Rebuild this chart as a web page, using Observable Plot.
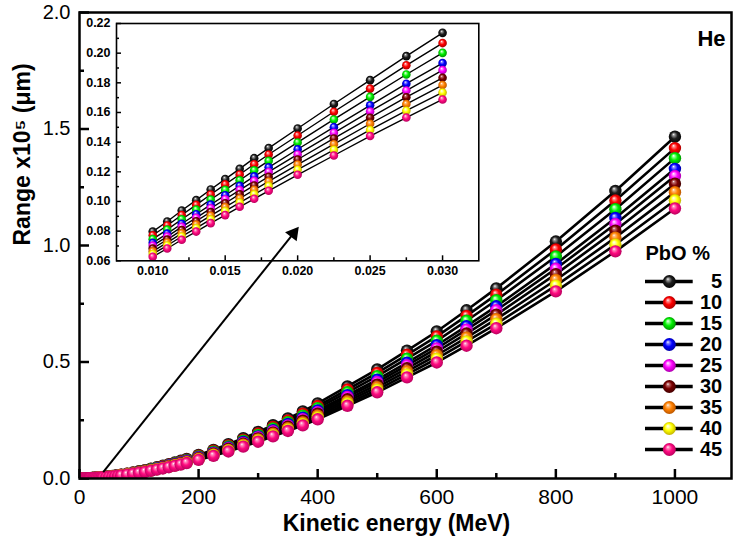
<!DOCTYPE html>
<html><head><meta charset="utf-8">
<script src="https://cdn.jsdelivr.net/npm/d3@7"></script>
<script src="https://cdn.jsdelivr.net/npm/@observablehq/plot@0.6"></script>
<style>
body{margin:0;background:#fff;}
#wrap{position:relative;width:736px;height:547px;overflow:hidden;background:#fff;}
#wrap svg{position:absolute;}
#wrap svg.mainplot g[aria-label^="y-axis"] text{font-size:20px;}
</style></head><body>
<svg width="0" height="0" style="position:absolute"><defs id="defs"></defs></svg>
<div id="wrap"></div>
<script>
// ---------- data ----------
const seriesLabels = ["5","10","15","20","25","30","35","40","45"];
const seriesBase  = ["#1e1e1e","#ff0000","#00f000","#0000ff","#ff00ff","#7a0000","#ff8000","#ffff00","#ff0a80"];
const seriesLight = ["#9a9a9a","#ff9090","#a0ffa0","#9090ff","#ffa0ff","#c07070","#ffc080","#ffffb0","#ff90c0"];
const seriesDark  = ["#000000","#a00000","#008a00","#00009a","#a000a0","#3a0000","#b05000","#b8a800","#b0005a"];

const energies = [2,4,6,8, 10,11,12,13,14,15,16,17,18, 20,22.5,25,27.5,30,32.5,35,37.5,40, 45,50,55,60,65,70, 80,90,100, 110,120,130,140,150,160,170,180, 200,225,250,275,300,325,350,375,400, 450,500,550,600,650,700, 800,900,1000];

const r5  = [0.0001,0.0002,0.0003,0.0005, 0.0007,0.0008,0.0009,0.0010,0.0011,0.0012,0.0013,0.0015,0.0016, 0.0019,0.0023,0.0028,0.0033,0.0038,0.0043,0.0049,0.0055,0.0062, 0.0076,0.0091,0.0108,0.0125,0.0144,0.0165, 0.0208,0.0256,0.0310, 0.0360,0.0420,0.0480,0.0545,0.0615,0.0685,0.0760,0.0840, 0.101,0.123,0.147,0.173,0.200,0.229,0.258,0.288,0.322, 0.395,0.468,0.549,0.631,0.722,0.816, 1.017,1.234,1.467];
const r10 = [0.0001,0.0002,0.0003,0.0005, 0.0007,0.0008,0.0009,0.0010,0.0011,0.0012,0.0013,0.0015,0.0015, 0.0018,0.0022,0.0027,0.0032,0.0037,0.0042,0.0047,0.0053,0.0060, 0.0073,0.0088,0.0104,0.0121,0.0139,0.0160, 0.0201,0.0248,0.0300, 0.0348,0.0406,0.0464,0.0527,0.0595,0.0662,0.0735,0.0812, 0.0977,0.119,0.142,0.167,0.193,0.221,0.249,0.278,0.311, 0.382,0.453,0.531,0.610,0.698,0.789, 0.983,1.193,1.418];
const r15 = [0.0001,0.0002,0.0003,0.0005, 0.0007,0.0007,0.0008,0.0009,0.0010,0.0011,0.0012,0.0014,0.0015, 0.0018,0.0022,0.0026,0.0031,0.0036,0.0040,0.0046,0.0052,0.0058, 0.0071,0.0085,0.0101,0.0117,0.0135,0.0155, 0.0195,0.0240,0.0290, 0.0337,0.0394,0.0450,0.0511,0.0576,0.0642,0.0712,0.0787, 0.0946,0.115,0.138,0.162,0.187,0.215,0.242,0.270,0.302, 0.370,0.439,0.514,0.591,0.677,0.765, 0.953,1.156,1.375];
const r20 = [0.0001,0.0002,0.0003,0.0005, 0.0006,0.0007,0.0008,0.0009,0.0010,0.0011,0.0012,0.0014,0.0014, 0.0017,0.0021,0.0025,0.0030,0.0034,0.0039,0.0044,0.0050,0.0056, 0.0069,0.0082,0.0098,0.0113,0.0130,0.0149, 0.0188,0.0232,0.0281, 0.0326,0.0381,0.0435,0.0494,0.0557,0.0621,0.0689,0.0761, 0.0915,0.111,0.133,0.157,0.181,0.207,0.234,0.261,0.292, 0.358,0.424,0.497,0.572,0.654,0.739, 0.921,1.118,1.329];
const r25 = [0.0001,0.0002,0.0003,0.0004, 0.0006,0.0007,0.0008,0.0009,0.0010,0.0011,0.0012,0.0013,0.0014, 0.0017,0.0020,0.0025,0.0029,0.0034,0.0038,0.0043,0.0049,0.0055, 0.0067,0.0081,0.0096,0.0111,0.0127,0.0146, 0.0184,0.0227,0.0274, 0.0319,0.0372,0.0425,0.0482,0.0544,0.0606,0.0673,0.0743, 0.0894,0.109,0.130,0.153,0.177,0.203,0.228,0.255,0.285, 0.350,0.414,0.486,0.558,0.639,0.722, 0.900,1.092,1.298];
const r30 = [0.0001,0.0002,0.0003,0.0004, 0.0006,0.0007,0.0008,0.0009,0.0009,0.0010,0.0011,0.0013,0.0014, 0.0016,0.0020,0.0024,0.0028,0.0033,0.0037,0.0042,0.0047,0.0053, 0.0066,0.0078,0.0093,0.0108,0.0124,0.0142, 0.0179,0.0221,0.0267, 0.0310,0.0362,0.0414,0.0470,0.0530,0.0590,0.0655,0.0724, 0.0871,0.106,0.127,0.149,0.172,0.197,0.222,0.248,0.278, 0.340,0.403,0.473,0.544,0.622,0.703, 0.877,1.064,1.265];
const r35 = [0.0001,0.0002,0.0003,0.0004, 0.0006,0.0007,0.0008,0.0008,0.0009,0.0010,0.0011,0.0013,0.0013, 0.0016,0.0019,0.0023,0.0028,0.0032,0.0036,0.0041,0.0046,0.0052, 0.0064,0.0076,0.0091,0.0105,0.0121,0.0138, 0.0174,0.0215,0.0260, 0.0302,0.0352,0.0402,0.0457,0.0515,0.0574,0.0637,0.0704, 0.0846,0.103,0.123,0.145,0.168,0.192,0.216,0.241,0.270, 0.331,0.392,0.460,0.529,0.605,0.684, 0.852,1.034,1.229];
const r40 = [0.0001,0.0002,0.0002,0.0004, 0.0006,0.0007,0.0007,0.0008,0.0009,0.0010,0.0011,0.0012,0.0013, 0.0015,0.0019,0.0023,0.0027,0.0031,0.0035,0.0040,0.0045,0.0050, 0.0062,0.0074,0.0088,0.0102,0.0117,0.0134, 0.0169,0.0208,0.0252, 0.0293,0.0342,0.0391,0.0444,0.0501,0.0558,0.0619,0.0684, 0.0822,0.100,0.120,0.141,0.163,0.186,0.210,0.234,0.262, 0.322,0.381,0.447,0.514,0.588,0.664, 0.828,1.004,1.194];
const r45 = [0.0001,0.0002,0.0002,0.0004, 0.0006,0.0006,0.0007,0.0008,0.0009,0.0009,0.0010,0.0012,0.0013, 0.0015,0.0018,0.0022,0.0026,0.0030,0.0034,0.0039,0.0043,0.0049, 0.0060,0.0072,0.0085,0.0099,0.0114,0.0130, 0.0164,0.0202,0.0245, 0.0284,0.0332,0.0379,0.0431,0.0486,0.0541,0.0600,0.0664, 0.0798,0.0972,0.116,0.137,0.158,0.181,0.204,0.228,0.254, 0.312,0.370,0.434,0.498,0.570,0.645, 0.803,0.975,1.159];

const insetEnergies = [0.010,0.011,0.012,0.013,0.014,0.015,0.016,0.017,0.018,0.020,0.0225,0.025,0.0275,0.030];
const i5  = [0.0797,0.0865,0.0939,0.1009,0.1081,0.1151,0.1220,0.1292,0.1360,0.1492,0.1657,0.1818,0.1980,0.2137];
const i10 = [0.0772,0.0838,0.0909,0.0977,0.1047,0.1115,0.1182,0.1251,0.1317,0.1445,0.1605,0.1761,0.1918,0.2068];
const i15 = [0.0746,0.0810,0.0880,0.0945,0.1013,0.1078,0.1143,0.1210,0.1274,0.1398,0.1553,0.1705,0.1856,0.2002];
const i20 = [0.0721,0.0783,0.0850,0.0914,0.0979,0.1042,0.1105,0.1169,0.1230,0.1352,0.1501,0.1648,0.1794,0.1933];
const i25 = [0.0702,0.0763,0.0829,0.0890,0.0954,0.1015,0.1077,0.1139,0.1199,0.1317,0.1463,0.1607,0.1748,0.1886];
const i30 = [0.0683,0.0743,0.0807,0.0867,0.0929,0.0988,0.1049,0.1108,0.1167,0.1283,0.1425,0.1565,0.1703,0.1834];
const i35 = [0.0664,0.0723,0.0785,0.0844,0.0904,0.0962,0.1020,0.1078,0.1135,0.1249,0.1386,0.1524,0.1657,0.1785];
const i40 = [0.0646,0.0703,0.0764,0.0820,0.0879,0.0935,0.0992,0.1048,0.1104,0.1214,0.1348,0.1482,0.1612,0.1735];
const i45 = [0.0627,0.0683,0.0742,0.0797,0.0854,0.0908,0.0964,0.1018,0.1072,0.1180,0.1310,0.1441,0.1566,0.1688];

const xMajor = [0,200,400,600,800,1000];
const xMinor = [100,300,500,700,900];
const yMajor = [0,0.5,1.0,1.5,2.0];
const yMinor = [0.25,0.75,1.25,1.75];
const insetXMajor = [0.010,0.015,0.020,0.025,0.030];
const insetXMinor = [0.0125,0.0175,0.0225,0.0275];
const insetYMajor = [0.06,0.08,0.10,0.12,0.14,0.16,0.18,0.20,0.22];
const insetYMinor = [0.07,0.09,0.11,0.13,0.15,0.17,0.19,0.21];

const arrowLine = [{x1: 39.8, y1: 0.027, x2: 359.4, y2: 1.052}];
const arrowHead = [{x: 359.4, y: 1.052}];

const xTitle = "Kinetic energy (MeV)";
const yTitle = "Range x10\u2075 (\u03bcm)";
const ionLabel = "He";
const legendTitle = "PbO %";

// ---------- build ----------
const FONT = "'Liberation Sans', Arial, Helvetica, sans-serif";
const mainSeries = [r5,r10,r15,r20,r25,r30,r35,r40,r45];
const insetSeries = [i5,i10,i15,i20,i25,i30,i35,i40,i45];
const mainData = seriesLabels.flatMap((s,i) => energies.map((e,j) => ({E: e, R: mainSeries[i][j], s})));
const insetData = seriesLabels.flatMap((s,i) => insetEnergies.map((e,j) => ({E: e, R: insetSeries[i][j], s})));

// glossy ball gradients
const NS = "http://www.w3.org/2000/svg";
const defs = document.getElementById("defs");
seriesLabels.forEach((s,i) => {
  const g = document.createElementNS(NS, "radialGradient");
  g.setAttribute("id", "ball" + i);
  g.setAttribute("cx", "0.5"); g.setAttribute("cy", "0.5"); g.setAttribute("r", "0.55");
  g.setAttribute("fx", "0.38"); g.setAttribute("fy", "0.3");
  [[0, "#ffffff"], [0.16, seriesLight[i]], [0.5, seriesBase[i]], [1, seriesDark[i]]].forEach(([o,c]) => {
    const st = document.createElementNS(NS, "stop");
    st.setAttribute("offset", o); st.setAttribute("stop-color", c);
    g.appendChild(st);
  });
  defs.appendChild(g);
});

const W = 736, H = 547, mL = 79, mR = 5, mT = 12, mB = 69;
const fw = W - mL - mR, fh = H - mT - mB;

const main = Plot.plot({
  width: W, height: H, marginLeft: mL, marginRight: mR, marginTop: mT, marginBottom: mB,
  className: "mainplot",
  style: {fontFamily: FONT, fontSize: "21px", background: "white", color: "black"},
  x: {domain: [0, 1095], ticks: xMajor, tickSize: 0, tickPadding: 11, tickFormat: d => String(d), label: null},
  y: {domain: [0, 2], ticks: yMajor, tickSize: 0, tickPadding: 9, tickFormat: d3.format(".1f"), label: null},
  marks: [
    Plot.ruleX(xMajor, {insetTop: fh - 9, strokeWidth: 2.5}),
    Plot.ruleX(xMinor, {insetTop: fh - 5, strokeWidth: 2.5}),
    Plot.ruleY(yMajor, {insetRight: fw - 10, strokeWidth: 2.5}),
    Plot.ruleY(yMinor, {insetRight: fw - 5, strokeWidth: 2.5}),
    Plot.line(mainData, {x: "E", y: "R", z: "s", stroke: "black", strokeWidth: 2.6, clip: true}),
    ...seriesLabels.map((s,i) => Plot.dot(mainData.filter(d => d.s === s), {x: "E", y: "R", r: 6.2, fill: `url(#ball${i})`, clip: true})),
    Plot.link(arrowLine, {x1: "x1", y1: "y1", x2: "x2", y2: "y2", stroke: "black", strokeWidth: 2}),
    Plot.dot(arrowHead, {x: "x", y: "y", symbol: "triangle", r: 5.5, rotate: 38.3, fill: "black"}),
    Plot.frame({stroke: "black", strokeWidth: 2.5}),
    Plot.text([xTitle], {text: d => d, frameAnchor: "bottom", dx: -9, dy: 52, fontWeight: "bold", fontSize: 23}),
    Plot.text([yTitle], {text: d => d, frameAnchor: "left", dx: -57, rotate: -90, fontWeight: "bold", fontSize: 23}),
    Plot.text([ionLabel], {text: d => d, frameAnchor: "top-right", dx: -6, dy: 18, textAnchor: "end", fontWeight: "bold", fontSize: 22})
  ]
});

// inset
const iL = 40, iR = 2, iT = 2, iB = 24, ifw = 362.3, ifh = 237.3;
const inset = Plot.plot({
  width: iL + ifw + iR, height: iT + ifh + iB, marginLeft: iL, marginRight: iR, marginTop: iT, marginBottom: iB,
  style: {fontFamily: FONT, fontSize: "12.5px", fontWeight: "bold", background: "transparent", color: "black", overflow: "visible"},
  x: {domain: [0.0075, 0.0325], ticks: insetXMajor, tickSize: 0, tickPadding: 5, tickFormat: d3.format(".3f"), label: null},
  y: {domain: [0.06, 0.22], ticks: insetYMajor, tickSize: 0, tickPadding: 6, tickFormat: d3.format(".2f"), label: null},
  marks: [
    Plot.ruleX(insetXMajor, {insetTop: ifh - 5, strokeWidth: 1.5}),
    Plot.ruleX(insetXMinor, {insetTop: ifh - 3, strokeWidth: 1.5}),
    Plot.ruleY(insetYMajor, {insetRight: ifw - 5, strokeWidth: 1.5}),
    Plot.ruleY(insetYMinor, {insetRight: ifw - 3, strokeWidth: 1.5}),
    Plot.line(insetData, {x: "E", y: "R", z: "s", stroke: "black", strokeWidth: 1.4}),
    ...seriesLabels.map((s,i) => Plot.dot(insetData.filter(d => d.s === s), {x: "E", y: "R", r: 4.3, fill: `url(#ball${i})`})),
    Plot.frame({stroke: "black", strokeWidth: 1.6})
  ]
});

// legend
const legend = Plot.plot({
  width: 96, height: 240, marginLeft: 0, marginRight: 0, marginTop: 0, marginBottom: 0,
  style: {fontFamily: FONT, background: "transparent", color: "black", overflow: "visible"},
  x: {domain: [0, 1], range: [5, 52.7], axis: null},
  y: {type: "point", domain: seriesLabels, range: [37.3, 228], axis: null},
  marks: [
    Plot.ruleY(seriesLabels, {y: d => d, x1: 0, x2: 1, stroke: "black", strokeWidth: 3.5}),
    ...seriesLabels.map((s,i) => Plot.dot([s], {x: 0.5, y: d => d, r: 6.5, fill: `url(#ball${i})`})),
    Plot.text(seriesLabels, {x: 1.608, y: d => d, text: d => d, textAnchor: "end", fontWeight: "bold", fontSize: 20}),
    Plot.text([legendTitle], {text: d => d, frameAnchor: "top-left", dx: 5, dy: 13, textAnchor: "start", fontWeight: "bold", fontSize: 20})
  ]
});

const wrap = document.getElementById("wrap");
main.classList.add("mainplot");
main.style.left = "0px"; main.style.top = "0px";
inset.style.left = (116 - iL) + "px"; inset.style.top = (22.7 - iT) + "px";
legend.style.left = "640px"; legend.style.top = "232px";
wrap.appendChild(main);
wrap.appendChild(inset);
wrap.appendChild(legend);
</script></body></html>
